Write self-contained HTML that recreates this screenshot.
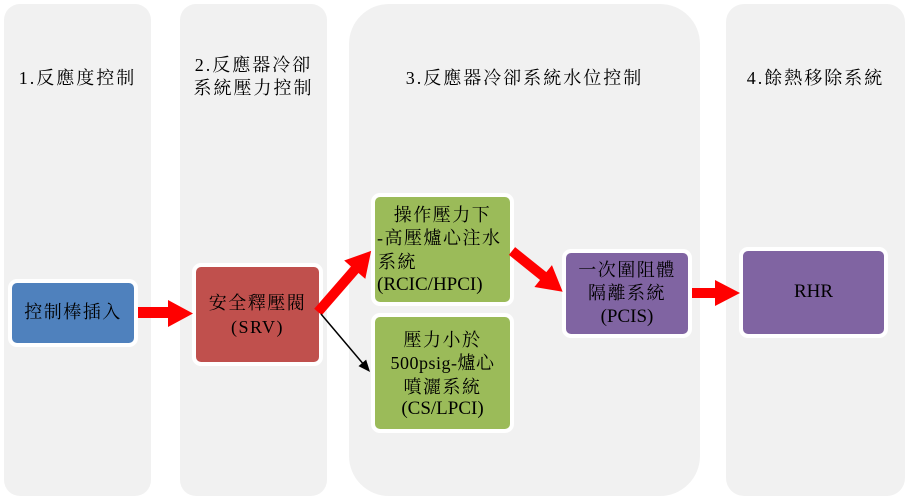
<!DOCTYPE html>
<html><head><meta charset="utf-8"><style>
html,body{margin:0;padding:0;background:#fff;}
body{width:908px;height:499px;position:relative;overflow:hidden;font-family:"Liberation Serif","Noto Serif CJK SC",serif;color:#000;}
.col{position:absolute;background:#f1f1f1;}
.box{position:absolute;box-sizing:border-box;border:4px solid #fff;border-radius:9px;}
.t{position:absolute;font-size:18px;line-height:22px;white-space:nowrap;letter-spacing:2px;}
.c{text-align:center;}
.b{position:absolute;font-size:18px;line-height:22px;white-space:nowrap;letter-spacing:1.5px;}
</style></head><body>
<div class="col" style="left:4px;top:4px;width:147px;height:492px;border-radius:16px;"></div>
<div class="col" style="left:180px;top:4px;width:147px;height:492px;border-radius:16px;"></div>
<div class="col" style="left:349px;top:4px;width:351px;height:492px;border-radius:40px;"></div>
<div class="col" style="left:726px;top:4px;width:179px;height:492px;border-radius:18px;"></div>

<div class="t c" style="left:4px;width:147px;top:67px;">1.反應度控制</div>
<div class="t c" style="left:180px;width:147px;top:54px;">2.反應器冷卻</div>
<div class="t c" style="left:180px;width:147px;top:77px;">系統壓力控制</div>
<div class="t c" style="left:349px;width:351px;top:67px;">3.反應器冷卻系統水位控制</div>
<div class="t c" style="left:726px;width:179px;top:67px;">4.餘熱移除系統</div>

<div class="box" style="left:8px;top:279px;width:130px;height:68px;background:#4f81bd;"></div>
<div class="box" style="left:192px;top:263px;width:131px;height:103px;background:#c0504d;"></div>
<div class="box" style="left:371px;top:193px;width:143px;height:113px;background:#9bbb59;"></div>
<div class="box" style="left:371px;top:313px;width:143px;height:120px;background:#9bbb59;"></div>
<div class="box" style="left:562px;top:249px;width:130px;height:89px;background:#8064a2;"></div>
<div class="box" style="left:739px;top:247px;width:149px;height:91px;background:#8064a2;"></div>

<div class="b c" style="left:8px;width:130px;top:301px;">控制棒插入</div>
<div class="b c" style="left:192px;width:131px;top:292px;">安全釋壓閥</div>
<div class="b c" style="left:192px;width:131px;top:316px;">(SRV)</div>

<div class="b c" style="left:371px;width:143px;top:204px;">操作壓力下</div>
<div class="b" style="left:377px;top:227px;">-高壓爐心注水</div>
<div class="b" style="left:378px;top:251px;">系統</div>
<div class="b" style="left:377px;top:274px;letter-spacing:0;font-size:19px;">(RCIC/HPCI)</div>

<div class="b c" style="left:371px;width:143px;top:329px;">壓力小於</div>
<div class="b c" style="left:371px;width:143px;top:352px;letter-spacing:0.5px;">500psig-爐心</div>
<div class="b c" style="left:371px;width:143px;top:376px;">噴灑系統</div>
<div class="b c" style="left:371px;width:143px;top:398px;letter-spacing:0;font-size:19px;">(CS/LPCI)</div>

<div class="b c" style="left:562px;width:130px;top:259px;">一次圍阻體</div>
<div class="b c" style="left:562px;width:130px;top:282px;">隔離系統</div>
<div class="b c" style="left:562px;width:130px;top:306px;letter-spacing:0;font-size:19px;">(PCIS)</div>

<div class="b c" style="left:739px;width:149px;top:281px;letter-spacing:0;font-size:19px;">RHR</div>

<svg width="908" height="499" style="position:absolute;left:0;top:0;" xmlns="http://www.w3.org/2000/svg">
  <!-- blue -> red -->
  <polygon fill="#ff0000" points="138,307 168,307 168,300 193,313.5 168,327 168,318 138,318"/>
  <!-- PCIS -> RHR -->
  <polygon fill="#ff0000" points="692,288 715,288 715,280 740,293 715,306 715,298 692,298"/>
  <!-- SRV -> green1 -->
  <g transform="translate(318,312) rotate(-49)">
    <polygon fill="#ff0000" points="0,-5 56,-5 56,-14 81,0 56,14 56,5 0,5"/>
  </g>
  <!-- green1 -> PCIS -->
  <g transform="translate(512,251) rotate(38.8)">
    <polygon fill="#ff0000" points="0,-5 40,-5 40,-14 65,0 40,14 40,5 0,5"/>
  </g>
  <!-- SRV -> green2 black -->
  <g transform="translate(321,314) rotate(49.8)">
    <line x1="0" y1="0" x2="66" y2="0" stroke="#000" stroke-width="1.5"/>
    <polygon fill="#000" points="64,-5 76,0 64,5"/>
  </g>
</svg>
</body></html>
